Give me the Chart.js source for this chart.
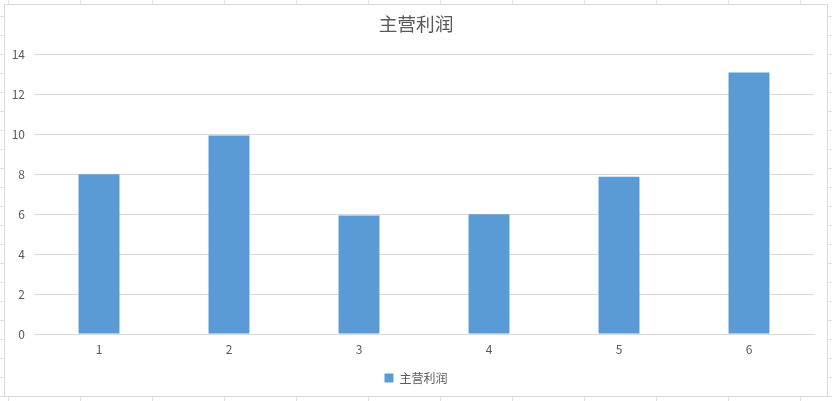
<!DOCTYPE html>
<html>
<head>
  <title>主营利润</title>
  <script src="https://cdn.jsdelivr.net/npm/chart.js"></script>
  <style>
    html, body { margin: 0; padding: 0; }
    body {
      width: 832px; height: 401px; overflow: hidden; position: relative;
      background-color: #fff;
      /* spreadsheet cells behind the chart */
      background-image:
        repeating-linear-gradient(to right, transparent 0 8px, #e1e1e1 8px 9px, transparent 9px 72px),
        repeating-linear-gradient(to bottom, transparent 0 16px, #e1e1e1 16px 17px, transparent 17px 19px);
    }
    #frame {
      position: absolute; left: 4px; top: 4px;
      width: 822px; height: 391px;
      border: 1px solid #d9d9d9; background: #fff;
    }
  </style>
</head>
<body>
  <div id="frame"><canvas id="chart"></canvas></div>
  <script>
    const categories = ['1', '2', '3', '4', '5', '6'];
    const profit = [8.0, 9.94, 5.93, 6.0, 7.87, 13.1];
    const seriesName = '主营利润';
    const chartTitle = '主营利润';

    const fontFamily = '"Noto Sans CJK SC", "Noto Sans", sans-serif';
    const textColor = '#595959';
    const gridColor = '#d9d9d9';
    const barColor = '#5b9bd5';

    const ctx = document.getElementById('chart').getContext('2d');

    new Chart(ctx, {
      type: 'bar',
      data: {
        labels: categories,
        datasets: [{
          label: seriesName,
          data: profit,
          backgroundColor: barColor,
          borderWidth: 0,
          categoryPercentage: 1,
          barPercentage: 0.315
        }]
      },
      options: {
        responsive: true,
        maintainAspectRatio: false,
        animation: false,
        devicePixelRatio: 1,
        layout: { padding: { left: 0, right: 0, top: 0, bottom: 2 } },
        plugins: {
          title: {
            display: true,
            text: chartTitle,
            color: textColor,
            font: { family: fontFamily, size: 18.7, weight: 'normal' },
            padding: { top: 8, bottom: 19 }
          },
          legend: {
            position: 'bottom',
            labels: {
              color: textColor,
              font: { family: fontFamily, size: 12 },
              boxWidth: 9,
              boxHeight: 9,
              padding: 10
            }
          },
          tooltip: { enabled: false }
        },
        scales: {
          x: {
            grid: { display: false, drawTicks: false },
            border: { display: true, color: gridColor, width: 1 },
            ticks: { color: textColor, font: { family: fontFamily, size: 12 }, padding: 8 },
            afterFit: s => { s.height = 28; }
          },
          y: {
            min: 0,
            max: 14,
            grid: { color: gridColor, drawTicks: false },
            border: { display: false },
            ticks: { stepSize: 2, color: textColor, font: { family: fontFamily, size: 12 }, padding: 9 },
            afterFit: s => { s.width = 29; }
          },
          // empty right-hand margin so the legend centres on the whole chart
          yRight: {
            position: 'right',
            grid: { display: false, drawTicks: false },
            border: { display: false },
            ticks: { display: false },
            afterFit: s => { s.width = 13; }
          }
        }
      }
    });
  </script>
</body>
</html>
